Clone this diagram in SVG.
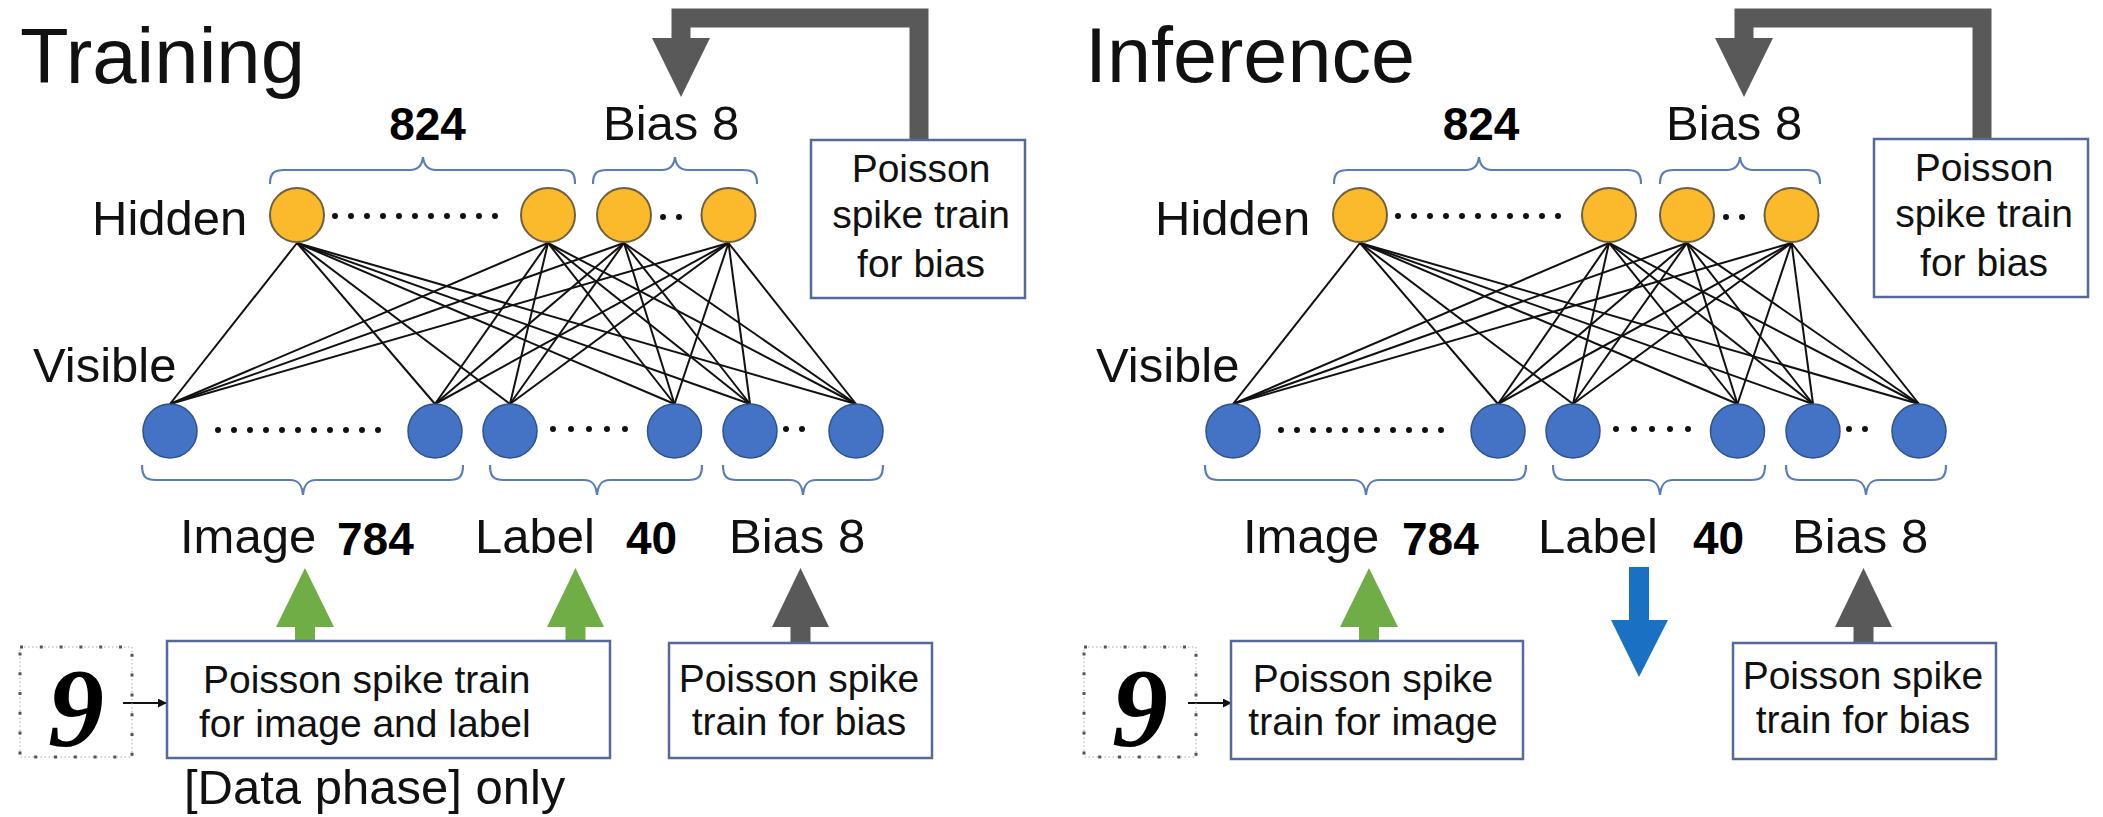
<svg xmlns="http://www.w3.org/2000/svg" width="2103" height="817" viewBox="0 0 2103 817">
  <style>
    text { font-family: "Liberation Sans", Arial, sans-serif; fill: #111; }
    .title { font-size: 78px; }
    .lbl { font-size: 49px; }
    .num { font-size: 46px; font-weight: bold; fill: #000; }
    .box-t { font-size: 39px; }
    .hid { fill: #FBB92C; stroke: #6E6040; stroke-width: 2; }
    .vis { fill: #4472C4; stroke: #2F528F; stroke-width: 1.5; }
    .dots { stroke: #111; stroke-width: 6; stroke-linecap: round; stroke-dasharray: 0 16; fill: none; }
    .brace { fill: none; stroke: #5B7CBA; stroke-width: 2.2; }
    .edge { stroke: #111; stroke-width: 2; }
    .box { fill: #fff; stroke: #55699A; stroke-width: 2.5; }
    .gray { fill: #595959; }
    .green { fill: #70AD47; }
    .blue { fill: #1A70C2; }
    .feed { fill: none; stroke: #595959; stroke-width: 19; stroke-linejoin: miter; }
    .digit { font-family: "Liberation Serif", "DejaVu Serif", serif; font-style: italic; font-weight: bold; font-size: 112px; fill: #000; }
    .frame-dots { fill: none; stroke: #555; stroke-width: 3; stroke-dasharray: 3 16.8; }
    .frame-line { fill: none; stroke: #aaa; stroke-width: 1; stroke-dasharray: 1.5 2.5; }
  </style>
  <defs>
    <marker id="small-arrow" viewBox="0 0 10 10" refX="9" refY="5" markerWidth="9" markerHeight="9" markerUnits="userSpaceOnUse" orient="auto">
      <path d="M0,0 L10,5 L0,10 Z" fill="#111"/>
    </marker>
  </defs>
  <rect width="2103" height="817" fill="#fff"/>

  <!-- ===================== Training ===================== -->
  <g id="training">
    <text class="title" x="20" y="83" textLength="285" lengthAdjust="spacingAndGlyphs">Training</text>
    <text class="lbl" x="92" y="235">Hidden</text>
    <text class="lbl" x="33" y="382">Visible</text>
    <text class="num" x="427.5" y="140" text-anchor="middle">824</text>
    <text class="lbl" x="603" y="140">Bias 8</text>

    <!-- group braces -->
    <path class="brace" d="M270,184 C270,173 274,170 284,170 L410,170 C418,170 422,166 423,157 C424,166 428,170 436,170 L562,170 C572,170 575,173 575,184"/>
    <path class="brace" d="M593,184 C593,173 597,170 607,170 L662,170 C670,170 674,166 675,157 C676,166 680,170 688,170 L743,170 C753,170 757,173 757,184"/>
    <path class="brace" d="M142,465 C142,477 146,480 156,480 L290,480 C298,480 302,484 303,495 C304,484 308,480 316,480 L449,480 C459,480 463,477 463,465"/>
    <path class="brace" d="M490,465 C490,477 494,480 504,480 L584,480 C592,480 596,484 597,495 C598,484 602,480 610,480 L688,480 C698,480 702,477 702,465"/>
    <path class="brace" d="M723,465 C723,477 727,480 737,480 L790,480 C798,480 802,484 803,495 C804,484 808,480 816,480 L869,480 C879,480 883,477 883,465"/>

    <g id="training-connectors">
      <g id="training-edges">
        <line class="edge" x1="297" y1="243" x2="170" y2="404"/>
        <line class="edge" x1="297" y1="243" x2="435" y2="404"/>
        <line class="edge" x1="297" y1="243" x2="510" y2="404"/>
        <line class="edge" x1="297" y1="243" x2="674.5" y2="404"/>
        <line class="edge" x1="297" y1="243" x2="750" y2="404"/>
        <line class="edge" x1="297" y1="243" x2="856" y2="404"/>
        <line class="edge" x1="548" y1="243" x2="170" y2="404"/>
        <line class="edge" x1="548" y1="243" x2="435" y2="404"/>
        <line class="edge" x1="548" y1="243" x2="510" y2="404"/>
        <line class="edge" x1="548" y1="243" x2="674.5" y2="404"/>
        <line class="edge" x1="548" y1="243" x2="750" y2="404"/>
        <line class="edge" x1="548" y1="243" x2="856" y2="404"/>
        <line class="edge" x1="624" y1="243" x2="170" y2="404"/>
        <line class="edge" x1="624" y1="243" x2="435" y2="404"/>
        <line class="edge" x1="624" y1="243" x2="510" y2="404"/>
        <line class="edge" x1="624" y1="243" x2="674.5" y2="404"/>
        <line class="edge" x1="624" y1="243" x2="750" y2="404"/>
        <line class="edge" x1="624" y1="243" x2="856" y2="404"/>
        <line class="edge" x1="728.5" y1="243" x2="170" y2="404"/>
        <line class="edge" x1="728.5" y1="243" x2="435" y2="404"/>
        <line class="edge" x1="728.5" y1="243" x2="510" y2="404"/>
        <line class="edge" x1="728.5" y1="243" x2="674.5" y2="404"/>
        <line class="edge" x1="728.5" y1="243" x2="750" y2="404"/>
        <line class="edge" x1="728.5" y1="243" x2="856" y2="404"/>
      </g>
      <!-- feedback from the bias spike source to the hidden bias units -->
      <path class="feed" d="M919,140 L919,18 L681,18 L681,40"/>
      <polygon class="gray" points="652,38 710,38 681,97"/>
      <!-- inputs into the visible layer -->
      <rect class="green" x="295" y="626" width="20" height="16"/>
      <polygon class="green" points="276,627 334,627 305,568"/>
      <rect class="green" x="565.5" y="626" width="20" height="16"/>
      <polygon class="green" points="547,627 604,627 575.5,568"/>
      <rect class="gray" x="790.5" y="626" width="20" height="17"/>
      <polygon class="gray" points="772,627 829,627 800.5,568"/>
      <line x1="123" y1="703" x2="166" y2="703" stroke="#111" stroke-width="2" marker-end="url(#small-arrow)"/>
    </g>

    <!-- hidden layer -->
    <g id="training-hidden-1"><circle class="hid" cx="297" cy="215" r="27"/></g>
    <line class="dots" x1="335" y1="216" x2="496" y2="216"/>
    <g id="training-hidden-2"><circle class="hid" cx="548" cy="215" r="27"/></g>
    <g id="training-hidden-3"><circle class="hid" cx="624" cy="215" r="27"/></g>
    <line class="dots" x1="663" y1="217" x2="680" y2="217"/>
    <g id="training-hidden-4"><circle class="hid" cx="728.5" cy="215" r="27"/></g>

    <!-- visible layer -->
    <g id="training-visible-1"><circle class="vis" cx="170" cy="431" r="27"/></g>
    <line class="dots" x1="218" y1="430" x2="379" y2="430"/>
    <g id="training-visible-2"><circle class="vis" cx="435" cy="431" r="27"/></g>
    <g id="training-visible-3"><circle class="vis" cx="510" cy="431" r="27"/></g>
    <line class="dots" x1="553" y1="429" x2="626" y2="429" style="stroke-dasharray:0 18"/>
    <g id="training-visible-4"><circle class="vis" cx="674.5" cy="431" r="27"/></g>
    <g id="training-visible-5"><circle class="vis" cx="750" cy="431" r="27"/></g>
    <line class="dots" x1="786" y1="429" x2="803" y2="429"/>
    <g id="training-visible-6"><circle class="vis" cx="856" cy="431" r="27"/></g>

    <text class="lbl" x="180" y="553">Image</text>
    <text class="num" x="337" y="555">784</text>
    <text class="lbl" x="475" y="553">Label</text>
    <text class="num" x="626" y="554">40</text>
    <text class="lbl" x="729" y="553">Bias 8</text>

    <g id="training-bias-source">
      <rect class="box" x="811" y="140" width="214" height="158"/>
      <text class="box-t" x="921" y="182" text-anchor="middle">Poisson</text>
      <text class="box-t" x="921" y="228" text-anchor="middle">spike train</text>
      <text class="box-t" x="921" y="277" text-anchor="middle">for bias</text>
    </g>

    <g id="training-digit">
      <rect class="frame-line" x="20" y="647" width="112" height="110"/>
      <rect class="frame-dots" x="20" y="647" width="112" height="110"/>
      <text class="digit" x="76" y="746" text-anchor="middle">9</text>
    </g>

    <g id="training-data-source">
      <rect class="box" x="167" y="641" width="443" height="117"/>
      <text class="box-t" x="203" y="693">Poisson spike train</text>
      <text class="box-t" x="199" y="737">for image and label</text>
    </g>
    <text class="lbl" x="184" y="804">[Data phase] only</text>

    <g id="training-visible-bias-source">
      <rect class="box" x="669" y="643" width="263" height="115"/>
      <text class="box-t" x="799" y="692" text-anchor="middle">Poisson spike</text>
      <text class="box-t" x="799" y="735" text-anchor="middle">train for bias</text>
    </g>
  </g>

  <!-- ===================== Inference ===================== -->
  <text class="title" x="1085" y="82" textLength="330" lengthAdjust="spacingAndGlyphs">Inference</text>
  <g id="inference" transform="translate(1063 0)">
    <text class="lbl" x="92" y="235">Hidden</text>
    <text class="lbl" x="33" y="382">Visible</text>
    <text class="num" x="418" y="140" text-anchor="middle">824</text>
    <text class="lbl" x="603" y="140">Bias 8</text>

    <path class="brace" d="M271,184 C271,173 275,170 285,170 L403,170 C411,170 415,166 416,157 C417,166 421,170 429,170 L564,170 C574,170 578,173 578,184"/>
    <path class="brace" d="M597,184 C597,173 601,170 611,170 L664,170 C672,170 676,166 677,157 C678,166 682,170 690,170 L743,170 C753,170 757,173 757,184"/>
    <path class="brace" d="M142,465 C142,477 146,480 156,480 L290,480 C298,480 302,484 303,495 C304,484 308,480 316,480 L449,480 C459,480 463,477 463,465"/>
    <path class="brace" d="M490,465 C490,477 494,480 504,480 L584,480 C592,480 596,484 597,495 C598,484 602,480 610,480 L688,480 C698,480 702,477 702,465"/>
    <path class="brace" d="M723,465 C723,477 727,480 737,480 L790,480 C798,480 802,484 803,495 C804,484 808,480 816,480 L869,480 C879,480 883,477 883,465"/>

    <g id="inference-connectors">
      <g id="inference-edges">
        <line class="edge" x1="297" y1="243" x2="170" y2="404"/>
        <line class="edge" x1="297" y1="243" x2="435" y2="404"/>
        <line class="edge" x1="297" y1="243" x2="510" y2="404"/>
        <line class="edge" x1="297" y1="243" x2="674.5" y2="404"/>
        <line class="edge" x1="297" y1="243" x2="750" y2="404"/>
        <line class="edge" x1="297" y1="243" x2="856" y2="404"/>
        <line class="edge" x1="546" y1="243" x2="170" y2="404"/>
        <line class="edge" x1="546" y1="243" x2="435" y2="404"/>
        <line class="edge" x1="546" y1="243" x2="510" y2="404"/>
        <line class="edge" x1="546" y1="243" x2="674.5" y2="404"/>
        <line class="edge" x1="546" y1="243" x2="750" y2="404"/>
        <line class="edge" x1="546" y1="243" x2="856" y2="404"/>
        <line class="edge" x1="624" y1="243" x2="170" y2="404"/>
        <line class="edge" x1="624" y1="243" x2="435" y2="404"/>
        <line class="edge" x1="624" y1="243" x2="510" y2="404"/>
        <line class="edge" x1="624" y1="243" x2="674.5" y2="404"/>
        <line class="edge" x1="624" y1="243" x2="750" y2="404"/>
        <line class="edge" x1="624" y1="243" x2="856" y2="404"/>
        <line class="edge" x1="728.5" y1="243" x2="170" y2="404"/>
        <line class="edge" x1="728.5" y1="243" x2="435" y2="404"/>
        <line class="edge" x1="728.5" y1="243" x2="510" y2="404"/>
        <line class="edge" x1="728.5" y1="243" x2="674.5" y2="404"/>
        <line class="edge" x1="728.5" y1="243" x2="750" y2="404"/>
        <line class="edge" x1="728.5" y1="243" x2="856" y2="404"/>
      </g>
      <path class="feed" d="M919,140 L919,18 L681,18 L681,40"/>
      <polygon class="gray" points="652,38 710,38 681,97"/>
      <rect class="green" x="296" y="626" width="20" height="16"/>
      <polygon class="green" points="277,627 335,627 306,568"/>
      <!-- label read-out -->
      <rect class="blue" x="566" y="567" width="20" height="54"/>
      <polygon class="blue" points="548,620 605,620 576,677"/>
      <rect class="gray" x="790.5" y="626" width="20" height="17"/>
      <polygon class="gray" points="772,627 829,627 800.5,568"/>
      <line x1="125" y1="703" x2="168" y2="703" stroke="#111" stroke-width="2" marker-end="url(#small-arrow)"/>
    </g>

    <g id="inference-hidden-1"><circle class="hid" cx="297" cy="215" r="27"/></g>
    <line class="dots" x1="335" y1="216" x2="496" y2="216"/>
    <g id="inference-hidden-2"><circle class="hid" cx="546" cy="215" r="27"/></g>
    <g id="inference-hidden-3"><circle class="hid" cx="624" cy="215" r="27"/></g>
    <line class="dots" x1="663" y1="217" x2="680" y2="217"/>
    <g id="inference-hidden-4"><circle class="hid" cx="728.5" cy="215" r="27"/></g>

    <g id="inference-visible-1"><circle class="vis" cx="170" cy="431" r="27"/></g>
    <line class="dots" x1="218" y1="430" x2="379" y2="430"/>
    <g id="inference-visible-2"><circle class="vis" cx="435" cy="431" r="27"/></g>
    <g id="inference-visible-3"><circle class="vis" cx="510" cy="431" r="27"/></g>
    <line class="dots" x1="553" y1="429" x2="626" y2="429" style="stroke-dasharray:0 18"/>
    <g id="inference-visible-4"><circle class="vis" cx="674.5" cy="431" r="27"/></g>
    <g id="inference-visible-5"><circle class="vis" cx="750" cy="431" r="27"/></g>
    <line class="dots" x1="786" y1="429" x2="803" y2="429"/>
    <g id="inference-visible-6"><circle class="vis" cx="856" cy="431" r="27"/></g>

    <text class="lbl" x="180" y="553">Image</text>
    <text class="num" x="339" y="555">784</text>
    <text class="lbl" x="475" y="553">Label</text>
    <text class="num" x="630" y="554">40</text>
    <text class="lbl" x="729" y="553">Bias 8</text>

    <g id="inference-bias-source">
      <rect class="box" x="811" y="139" width="214" height="158"/>
      <text class="box-t" x="921" y="181" text-anchor="middle">Poisson</text>
      <text class="box-t" x="921" y="227" text-anchor="middle">spike train</text>
      <text class="box-t" x="921" y="276" text-anchor="middle">for bias</text>
    </g>

    <g id="inference-digit">
      <rect class="frame-line" x="21" y="647" width="112" height="110"/>
      <rect class="frame-dots" x="21" y="647" width="112" height="110"/>
      <text class="digit" x="77" y="746" text-anchor="middle">9</text>
    </g>

    <g id="inference-image-source">
      <rect class="box" x="168" y="641" width="292" height="118"/>
      <text class="box-t" x="310" y="692" text-anchor="middle">Poisson spike</text>
      <text class="box-t" x="310" y="735" text-anchor="middle">train for image</text>
    </g>

    <g id="inference-visible-bias-source">
      <rect class="box" x="670" y="643" width="263" height="116"/>
      <text class="box-t" x="800" y="689" text-anchor="middle">Poisson spike</text>
      <text class="box-t" x="800" y="733" text-anchor="middle">train for bias</text>
    </g>
  </g>
</svg>
